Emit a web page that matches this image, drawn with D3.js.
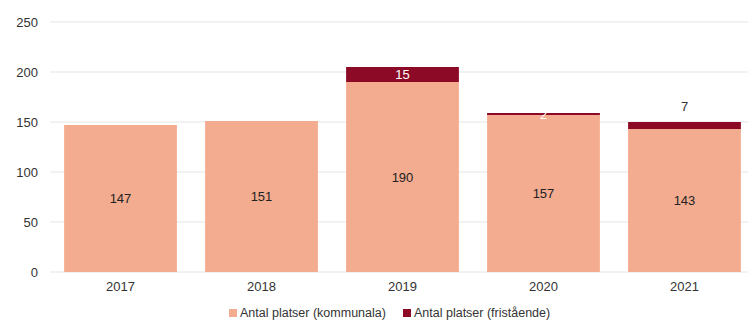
<!DOCTYPE html>
<html><head><meta charset="utf-8">
<script src="https://cdn.jsdelivr.net/npm/d3@7"></script>
<style>body{margin:0;background:#fff}svg{display:block;font-family:"Liberation Sans",Arial,sans-serif}</style>
</head><body><svg id="c" width="748" height="321"></svg>
<script>
const years = ["2017","2018","2019","2020","2021"];
const kommunala = [147,151,190,157,143];
const fristaende = [0,0,15,2,7];
const yTicks = [0,50,100,150,200,250];
const seriesNames = ["Antal platser (kommunala)","Antal platser (fristående)"];
const colors = ["#F4AC90","#8C0A26"];

const svg = d3.select("#c");
const x = d3.scaleBand().domain(years).range([50,755]).paddingInner(0.2).paddingOuter(0.1);
const y = d3.scaleLinear().domain([0,250]).range([272,22]);

// grid
svg.append("g").selectAll("line").data(yTicks).join("line")
  .attr("x1",50).attr("x2",748).attr("y1",d=>y(d)).attr("y2",d=>y(d))
  .attr("stroke","#e5e5e5").attr("stroke-width",1);

const yAxis = svg.append("g").attr("transform","translate(50,0)")
  .call(d3.axisLeft(y).tickValues(yTicks).tickSize(0).tickPadding(12));
yAxis.select(".domain").remove();
yAxis.selectAll("text").attr("font-size",13).attr("fill","#333").style("font-family","Liberation Sans, Arial, sans-serif");

const xAxis = svg.append("g").attr("transform","translate(0,272)")
  .call(d3.axisBottom(x).tickSize(0).tickPadding(10));
xAxis.select(".domain").remove();
xAxis.selectAll("text").attr("font-size",13).attr("fill","#333").style("font-family","Liberation Sans, Arial, sans-serif");

// bars
const data = years.map((yr,i)=>({yr,k:kommunala[i],f:fristaende[i]}));
svg.append("g").selectAll("rect").data(data).join("rect")
  .attr("x",d=>x(d.yr)).attr("width",x.bandwidth())
  .attr("y",d=>y(d.k)).attr("height",d=>y(0)-y(d.k))
  .attr("fill",colors[0]);
svg.append("g").selectAll("rect").data(data.filter(d=>d.f>0)).join("rect")
  .attr("x",d=>x(d.yr)).attr("width",x.bandwidth())
  .attr("y",d=>y(d.k+d.f)).attr("height",d=>y(d.k)-y(d.k+d.f))
  .attr("fill",colors[1]);

// labels
svg.append("g").selectAll("text").data(data).join("text")
  .attr("x",d=>x(d.yr)+x.bandwidth()/2).attr("y",d=>y(d.k/2))
  .attr("dy","0.35em").attr("text-anchor","middle").attr("font-size",13).attr("fill","#222")
  .text(d=>d.k);
svg.append("g").selectAll("text").data(data.filter(d=>d.f>0)).join("text")
  .attr("x",d=>x(d.yr)+x.bandwidth()/2)
  .attr("y",d=>d.f>=10 ? y(d.k+d.f/2) : (d.f<5 ? y(d.k+d.f/2) : y(d.k+d.f)-16))
  .attr("dy","0.35em").attr("text-anchor","middle").attr("font-size",13)
  .attr("fill",d=>d.f>=10||d.f<5 ? "#fff" : "#333")
  .text(d=>d.f);

// legend
const lg = svg.append("g");
const lx = [229,403];
seriesNames.forEach((n,i)=>{
  lg.append("rect").attr("x",lx[i]).attr("y",309).attr("width",8).attr("height",8).attr("fill",colors[i]);
  lg.append("text").attr("x",lx[i]+11).attr("y",313).attr("dy","0.35em").attr("font-size",12.5).attr("fill","#333").text(n);
});
</script></body></html>
